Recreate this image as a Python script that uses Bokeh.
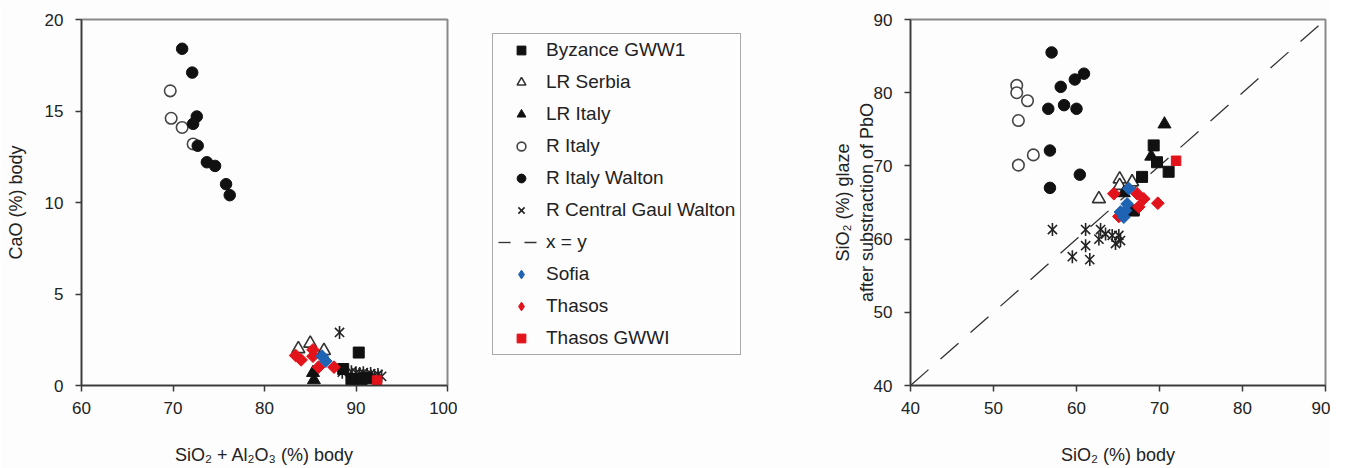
import math
from bokeh.plotting import figure
from bokeh.layouts import row
from bokeh.models import Range1d, FixedTicker, Legend, LegendItem
from bokeh.embed import file_html
from bokeh.resources import INLINE

# ---------------- data ----------------
# Left panel: SiO2 + Al2O3 (%) body  vs  CaO (%) body
L_byz_x = [90.3, 88.6, 89.5, 90.0, 90.6, 91.2]
L_byz_y = [1.8, 0.9, 0.35, 0.35, 0.3, 0.4]
L_lrserbia_x = [83.7, 85.0, 86.5]
L_lrserbia_y = [2.0, 2.3, 1.9]
L_lritaly_x = [85.3, 85.4]
L_lritaly_y = [0.7, 0.3]
L_ritaly_x = [69.7, 69.8, 71.0, 72.2]
L_ritaly_y = [16.1, 14.6, 14.1, 13.2]
L_walton_x = [71.0, 72.1, 72.6, 72.2, 72.7, 73.7, 74.6, 75.8, 76.2]
L_walton_y = [18.4, 17.1, 14.7, 14.3, 13.1, 12.2, 12.0, 11.0, 10.4]
L_gaul_x = [88.2, 88.5, 89.5, 90.0, 90.4, 90.8, 91.2, 91.6, 92.0, 92.4, 92.8, 91.0]
L_gaul_y = [2.9, 0.73, 0.75, 0.7, 0.65, 0.7, 0.6, 0.65, 0.55, 0.6, 0.5, 0.4]
L_sofia_x = [86.3, 86.7]
L_sofia_y = [1.6, 1.33]
L_thasos_x = [83.4, 84.0, 85.3, 85.3, 85.9, 87.6]
L_thasos_y = [1.64, 1.4, 1.95, 1.6, 1.0, 1.0]
L_thgwwi_x = [92.3]
L_thgwwi_y = [0.27]

# Right panel: SiO2 (%) body  vs  SiO2 (%) glaze after substraction of PbO
R_byz_x = [69.3, 69.7, 71.1, 67.9, 66.9]
R_byz_y = [72.8, 70.5, 69.2, 68.5, 63.9]
R_lrserbia_x = [65.2, 65.2, 66.7, 62.7]
R_lrserbia_y = [68.2, 67.3, 67.8, 65.5]
R_lritaly_x = [70.6, 69.0, 65.7]
R_lritaly_y = [75.7, 71.3, 66.3]
R_ritaly_x = [52.8, 52.8, 54.1, 53.0, 54.8, 53.0]
R_ritaly_y = [81.0, 80.0, 78.9, 76.2, 71.5, 70.1]
R_walton_x = [57.0, 58.1, 59.8, 60.9, 56.6, 58.5, 60.0, 56.8, 60.4, 56.8]
R_walton_y = [85.5, 80.8, 81.8, 82.6, 77.8, 78.3, 77.8, 72.1, 68.8, 67.0]
R_gaul_x = [57.1, 61.1, 62.9, 63.5, 62.7, 64.3, 65.1, 65.3, 64.7, 61.1, 59.5, 61.6]
R_gaul_y = [61.3, 61.3, 61.3, 60.7, 60.0, 60.5, 60.5, 59.8, 59.4, 59.1, 57.6, 57.2]
R_sofia_x = [66.3, 66.1, 65.9, 65.3, 65.7]
R_sofia_y = [66.9, 64.8, 63.9, 63.7, 63.0]
R_thasos_x = [64.5, 67.3, 68.1, 69.8, 67.5, 65.1]
R_thasos_y = [66.2, 66.2, 65.5, 64.9, 64.4, 63.1]
R_thgwwi_x = [72.0]
R_thgwwi_y = [70.7]
identity_line = [40, 90]

labels = ["Byzance GWW1", "LR Serbia", "LR Italy", "R Italy", "R Italy Walton",
          "R Central Gaul Walton", "x = y", "Sofia", "Thasos", "Thasos GWWI"]
left_ticks_x = [60, 70, 80, 90, 100]
left_ticks_y = [0, 5, 10, 15, 20]
right_ticks = [40, 50, 60, 70, 80, 90]

# ---------------- styling ----------------
FONT = "Liberation Sans"
BG = "#fdfdfd"
TXT = "#222222"
BLK = "#111111"
RED = "#e3131b"
BLUE = "#1f63b4"


def draw_series(p, key, x, y, for_legend=False):
    if key == "byz":
        return [p.scatter(x, y, marker="square", size=11, fill_color=BLK, line_color=BLK)]
    if key == "lrserbia":
        return [p.scatter(x, y, marker="triangle", size=13, fill_color="white",
                          line_color="#333333", line_width=1.6)]
    if key == "lritaly":
        return [p.scatter(x, y, marker="triangle", size=13, fill_color=BLK, line_color=BLK)]
    if key == "ritaly":
        return [p.scatter(x, y, marker="circle", size=11.5, fill_color="white",
                          line_color="#444444", line_width=1.6)]
    if key == "walton":
        return [p.scatter(x, y, marker="circle", size=11.5, fill_color=BLK, line_color=BLK)]
    if key == "gaul":
        r1 = p.scatter(x, y, marker="x", size=13, line_color="#222222", line_width=1.6)
        if for_legend:
            return [r1]
        r2 = p.scatter(x, y, marker="dash", angle=math.pi / 2, size=13,
                       line_color="#222222", line_width=1.6)
        return [r1, r2]
    if key in ("sofia", "thasos"):
        col = BLUE if key == "sofia" else RED
        if for_legend:
            return [p.scatter(x, y, marker="diamond", size=13, fill_color=col, line_color=col)]
        return [p.scatter(x, y, marker="square", angle=math.pi / 4, size=9,
                          fill_color=col, line_color=col)]
    if key == "thgwwi":
        return [p.scatter(x, y, marker="square", size=9.5, fill_color=RED, line_color=RED)]


def style_axes(p, xt, yt, xlabel, ylabel):
    p.background_fill_color = BG
    p.border_fill_color = BG
    p.xgrid.visible = False
    p.ygrid.visible = False
    p.outline_line_color = "#8a8a8a"
    p.outline_line_width = 2
    p.xaxis.ticker = FixedTicker(ticks=xt)
    p.yaxis.ticker = FixedTicker(ticks=yt)
    for ax in (p.xaxis, p.yaxis):
        ax.axis_line_color = "#3a3a3a"
        ax.axis_line_width = 1.5
        ax.major_tick_line_color = "#3a3a3a"
        ax.major_tick_line_width = 1.5
        ax.major_tick_in = 0
        ax.major_tick_out = 6
        ax.minor_tick_line_color = None
        ax.major_label_text_font = FONT
        ax.major_label_text_font_size = "17px"
        ax.major_label_text_color = TXT
        ax.axis_label_text_font = FONT
        ax.axis_label_text_font_size = "18px"
        ax.axis_label_text_font_style = "normal"
        ax.axis_label_text_color = TXT
    p.xaxis.axis_label = xlabel
    p.yaxis.axis_label = ylabel
    p.xaxis.major_label_standoff = 10
    p.yaxis.major_label_standoff = 12
    p.xaxis.axis_label_standoff = 28


H = 468
TOP = 19
BOTTOM = 83

# ---------------- left figure ----------------
pl = figure(width=457, height=H, x_range=Range1d(60, 100), y_range=Range1d(0, 20),
            output_backend="svg", toolbar_location=None,
            min_border_left=81, min_border_right=10, min_border_top=TOP, min_border_bottom=BOTTOM)
style_axes(pl, left_ticks_x, left_ticks_y, "SiO\u2082 + Al\u2082O\u2083 (%) body", "CaO (%) body")
pl.yaxis.axis_label_standoff = 16
left_data = [("ritaly", L_ritaly_x, L_ritaly_y), ("walton", L_walton_x, L_walton_y),
             ("gaul", L_gaul_x, L_gaul_y), ("lrserbia", L_lrserbia_x, L_lrserbia_y),
             ("lritaly", L_lritaly_x, L_lritaly_y), ("byz", L_byz_x, L_byz_y),
             ("thasos", L_thasos_x, L_thasos_y), ("sofia", L_sofia_x, L_sofia_y),
             ("thgwwi", L_thgwwi_x, L_thgwwi_y)]
for key, x, y in left_data:
    draw_series(pl, key, x, y)

# ---------------- right figure ----------------
pr = figure(width=540, height=H, x_range=Range1d(40, 90), y_range=Range1d(40, 90),
            output_backend="svg", toolbar_location=None,
            min_border_left=120, min_border_right=5, min_border_top=TOP, min_border_bottom=BOTTOM)
style_axes(pr, right_ticks, right_ticks, "SiO\u2082 (%) body",
           "SiO\u2082 (%) glaze\nafter substraction of PbO")
pr.yaxis.axis_label_standoff = -6
pr.line(identity_line, identity_line, line_color="#333333", line_width=1.3, line_dash="24 16")
right_data = [("ritaly", R_ritaly_x, R_ritaly_y), ("walton", R_walton_x, R_walton_y),
              ("gaul", R_gaul_x, R_gaul_y), ("lrserbia", R_lrserbia_x, R_lrserbia_y),
              ("lritaly", R_lritaly_x, R_lritaly_y), ("byz", R_byz_x, R_byz_y),
              ("thasos", R_thasos_x, R_thasos_y), ("sofia", R_sofia_x, R_sofia_y),
              ("thgwwi", R_thgwwi_x, R_thgwwi_y)]
for key, x, y in right_data:
    draw_series(pr, key, x, y)

# ---------------- middle legend figure ----------------
pm = figure(width=333, height=H, x_range=Range1d(0, 1), y_range=Range1d(0, 1),
            x_axis_type=None, y_axis_type=None, output_backend="svg", toolbar_location=None,
            min_border_left=21, min_border_right=0, min_border_top=TOP, min_border_bottom=BOTTOM)
pm.background_fill_color = BG
pm.border_fill_color = BG
pm.outline_line_color = None
pm.xgrid.visible = False
pm.ygrid.visible = False

# legend renderers reuse the left-panel data (outside this empty panel's range)
leg_src = {"byz": (L_byz_x, L_byz_y), "lrserbia": (L_lrserbia_x, L_lrserbia_y),
           "lritaly": (L_lritaly_x, L_lritaly_y), "ritaly": (L_ritaly_x, L_ritaly_y),
           "walton": (L_walton_x, L_walton_y), "gaul": (L_gaul_x, L_gaul_y),
           "sofia": (L_sofia_x, L_sofia_y), "thasos": (L_thasos_x, L_thasos_y),
           "thgwwi": (L_thgwwi_x, L_thgwwi_y)}
order = ["byz", "lrserbia", "lritaly", "ritaly", "walton", "gaul", "xy", "sofia", "thasos", "thgwwi"]
items = []
for key, lab in zip(order, labels):
    if key == "xy":
        r = pm.line(identity_line, identity_line, line_color="#333333", line_width=1.3,
                    line_dash="12 14")
        items.append(LegendItem(label=lab, renderers=[r]))
    else:
        x, y = leg_src[key]
        items.append(LegendItem(label=lab, renderers=draw_series(pm, key, x, y, for_legend=True)))

legend = Legend(items=items, location="top_left", margin=14, padding=5, spacing=10,
                glyph_width=46, glyph_height=22, label_height=22, label_standoff=2,
                label_text_font=FONT, label_text_font_size="19px", label_text_color=TXT,
                border_line_color="#555555", border_line_width=1.5,
                background_fill_color=BG, background_fill_alpha=1.0)
pm.add_layout(legend, "center")

layout = row(pl, pm, pr)
open("out.html", "w").write(file_html(layout, INLINE))
